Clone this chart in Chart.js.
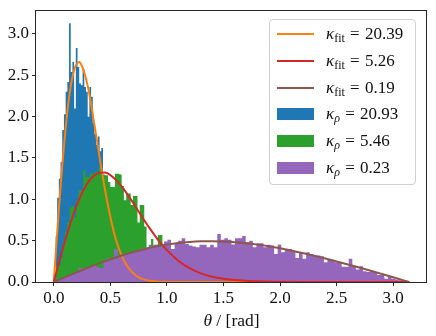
<!DOCTYPE html>
<html>
<head>
<meta charset="utf-8">
<script src="https://cdn.jsdelivr.net/npm/chart.js@4.4.0/dist/chart.umd.min.js"></script>
<style>
  body { margin: 0; background: #fff; }
  #wrap { position: relative; width: 436px; height: 336px; font-family: 'Liberation Serif', serif; color: #111; }
  #legend { position: absolute; left: 269px; top: 19px; width: 147px; height: 166px; border: 1px solid #d0d0d0; border-radius: 4px; background: rgba(255,255,255,0.8); box-sizing: border-box; }
  .row { position: absolute; left: 0; height: 26px; line-height: 26px; font-size: 17px; white-space: nowrap; }
  .row .sw { position: absolute; left: 7px; width: 37px; }
  .row .txt { position: absolute; left: 56px; top: 0; }
  .row .eq { margin: 0 1px; }
  .row sub { font-size: 12px; line-height: 0; vertical-align: -3px; }
  #xtitle { position: absolute; left: 36px; width: 391px; top: 312px; line-height: 17px; font-size: 17.5px; text-align: center; }
</style>
</head>
<body>
<div id="wrap">
  <canvas id="chart" width="436" height="336"></canvas>
  <div id="legend"></div>
  <div id="xtitle"><i>θ</i> / [rad]</div>
</div>
<script>
// histogramas: inicio de bin, ancho de bin y alturas
const bluStart = 0.015, bluWidth = 0.015;
const bluHist = [0.55, 1.02, 1.25, 1.45, 1.84, 2.03, 2.3, 2.42, 3.13, 2.54, 2.66, 2.1, 2.83, 2.6, 2.4, 2.38, 2.58, 2.36, 2.3, 2.0,
  2.36, 2.24, 1.92, 1.79, 1.66, 1.76, 1.58, 1.62, 1.3, 1.2, 1.08, 0.98, 0.88, 0.78, 0.7, 0.62, 0.54, 0.47, 0.41, 0.35,
  0.3, 0.26, 0.22, 0.19, 0.16, 0.13, 0.11, 0.09, 0.07, 0.05, 0.04, 0.03, 0.02];

const grnStart = 0, grnWidth = 0.02;
const grnHist = [0.05, 0.2, 0.2, 0.3, 0.48, 0.61, 0.72, 0.9, 0.92, 0.78,
  0.99, 1.11, 1.11, 1.35, 1.27, 1.27, 1.31, 1.31, 1.33, 1.33,
  1.40, 1.29, 1.29, 1.29, 1.21, 1.15, 1.15, 1.31, 1.31, 1.30,
  1.16, 0.99, 1.07, 1.07, 0.93, 1.04, 1.04, 0.72, 0.93, 0.93,
  0.67, 0.37, 0.45, 0.52, 0.44, 0.45, 0.57, 0.57, 0.42, 0.40,
  0.36, 0.34, 0.31, 0.29, 0.27, 0.25, 0.22, 0.20, 0.19, 0.17,
  0.15, 0.14, 0.13, 0.12, 0.10, 0.09, 0.085, 0.075, 0.07, 0.06,
  0.055, 0.05, 0.045, 0.04, 0.035, 0.03, 0.025, 0.02, 0.02, 0.015];

const purStart = 0, purWidth = 0.031416;
const purHist = [0.01, 0.03, 0.05, 0.07, 0.08, 0.10, 0.12, 0.17, 0.16, 0.17,
  0.19, 0.20, 0.18, 0.17, 0.27, 0.29, 0.29, 0.40, 0.32, 0.33,
  0.34, 0.36, 0.37, 0.38, 0.40, 0.41, 0.42, 0.44, 0.45, 0.45,
  0.45, 0.49, 0.51, 0.40, 0.47, 0.50, 0.53, 0.46, 0.44, 0.43,
  0.42, 0.45, 0.45, 0.42, 0.45, 0.42, 0.58, 0.51, 0.53, 0.51,
  0.455, 0.53, 0.53, 0.556, 0.48, 0.50, 0.42, 0.47, 0.47, 0.42,
  0.45, 0.44, 0.34, 0.455, 0.36, 0.395, 0.40, 0.37, 0.29, 0.35,
  0.28, 0.36, 0.34, 0.32, 0.32, 0.31, 0.24, 0.27, 0.27, 0.24,
  0.24, 0.185, 0.185, 0.28, 0.19, 0.15, 0.19, 0.13, 0.12, 0.13,
  0.11, 0.085, 0.085, 0.04, 0.06, 0.04, 0.03, 0.02, 0.015, 0.005];

// curvas de ajuste
const thetaA = [0, 0.025, 0.05, 0.075, 0.1, 0.125, 0.15, 0.175, 0.2, 0.225, 0.25, 0.275, 0.3, 0.325, 0.35, 0.375, 0.4,
  0.45, 0.5, 0.55, 0.6, 0.65, 0.7, 0.75, 0.8, 0.9, 1.0, 1.2, 1.5, 2.0, 2.5, 3.0, 3.1416];
const fitA = [0, 0.49, 0.97, 1.41, 1.79, 2.12, 2.37, 2.54, 2.63, 2.66, 2.61, 2.51, 2.37, 2.19, 1.98, 1.77, 1.55,
  1.14, 0.79, 0.51, 0.32, 0.19, 0.11, 0.057, 0.029, 0.007, 0.0014, 0, 0, 0, 0, 0, 0];

const thetaB = [0, 0.05, 0.1, 0.15, 0.2, 0.25, 0.3, 0.35, 0.4, 0.45, 0.5, 0.55, 0.6, 0.65, 0.7, 0.75, 0.8, 0.85, 0.9, 0.95,
  1.0, 1.1, 1.2, 1.3, 1.4, 1.5, 1.6, 1.8, 2.0, 2.2, 2.5, 3.0, 3.1416];
const fitB = [0, 0.255, 0.499, 0.723, 0.918, 1.078, 1.200, 1.280, 1.320, 1.323, 1.293, 1.235, 1.157, 1.063, 0.960, 0.853,
  0.747, 0.645, 0.550, 0.463, 0.385, 0.258, 0.167, 0.105, 0.064, 0.039, 0.023, 0.008, 0.003, 0.001, 0, 0, 0];

const thetaC = [0, 0.1, 0.2, 0.3, 0.4, 0.5, 0.6, 0.7, 0.8, 0.9, 1.0, 1.1, 1.2, 1.3, 1.4, 1.5, 1.6, 1.7, 1.8, 1.9,
  2.0, 2.1, 2.2, 2.3, 2.4, 2.5, 2.6, 2.7, 2.8, 2.9, 3.0, 3.1, 3.1416];
const fitC = [0, 0.0585, 0.116, 0.172, 0.225, 0.275, 0.320, 0.361, 0.397, 0.428, 0.452, 0.471, 0.484, 0.492, 0.494,
  0.490, 0.482, 0.469, 0.452, 0.432, 0.408, 0.380, 0.351, 0.319, 0.285, 0.249, 0.212, 0.175, 0.136, 0.0965, 0.0567, 0.0167, 0];

const xTicks = [0, 0.5, 1, 1.5, 2, 2.5, 3];
const yTicks = [0, 0.5, 1, 1.5, 2, 2.5, 3];

const labelsFit = ['20.39', '5.26', '0.19'];
const labelsRho = ['20.93', '5.46', '0.23'];

const C = { blue: '#1f77b4', orange: '#ff7f0e', green: '#2ca02c', red: '#d62728', purple: '#9467bd', brown: '#8c564b' };

function histPoints(start, width, vals) {
  const pts = vals.map((v, i) => ({ x: start + i * width, y: v }));
  pts.push({ x: start + vals.length * width, y: vals[vals.length - 1] });
  return pts;
}
const curve = (xs, ys) => xs.map((x, i) => ({ x: x, y: ys[i] }));

function histSet(pts, color, order) {
  return { data: pts, stepped: true, fill: 'origin', backgroundColor: color, borderColor: color,
    borderWidth: 0, pointRadius: 0, order: order };
}
function lineSet(pts, color, order) {
  return { data: pts, borderColor: color, borderWidth: 2, fill: false, pointRadius: 0,
    cubicInterpolationMode: 'monotone', order: order };
}

// marco completo como en matplotlib
const marco = {
  id: 'marco',
  afterDatasetsDraw(chart) {
    const { ctx, chartArea: a } = chart;
    ctx.save();
    ctx.strokeStyle = '#262626';
    ctx.lineWidth = 1;
    ctx.strokeRect(a.left - 0.5, a.top + 0.5, a.right - a.left, a.bottom - a.top);
    ctx.restore();
  }
};

const tickFont = { family: "'Liberation Serif', serif", size: 17 };
const noPad = s => { s.paddingTop = 0; s.paddingBottom = 0; s.paddingLeft = 0; s.paddingRight = 0; };

new Chart(document.getElementById('chart'), {
  type: 'line',
  data: {
    datasets: [
      lineSet(curve(thetaC, fitC), C.brown, 0),
      lineSet(curve(thetaB, fitB), C.red, 1),
      lineSet(curve(thetaA, fitA), C.orange, 2),
      histSet(histPoints(purStart, purWidth, purHist), C.purple, 3),
      histSet(histPoints(grnStart, grnWidth, grnHist), C.green, 4),
      histSet(histPoints(bluStart, bluWidth, bluHist), C.blue, 5)
    ]
  },
  options: {
    responsive: false,
    animation: false,
    devicePixelRatio: 1,
    layout: { padding: { top: 10, right: 9, left: 0, bottom: 0 } },
    plugins: { legend: { display: false }, tooltip: { enabled: false } },
    scales: {
      x: {
        type: 'linear', min: -0.157, max: 3.299,
        afterBuildTicks: s => { s.ticks = xTicks.map(v => ({ value: v })); },
        ticks: { callback: v => v.toFixed(1), font: tickFont, color: '#111', padding: 2, maxRotation: 0, autoSkip: false },
        grid: { drawOnChartArea: false, tickLength: 4, color: '#262626', tickWidth: 1 },
        border: { display: false },
        afterFit: s => { noPad(s); s.height = 54; }
      },
      y: {
        type: 'linear', min: 0, max: 3.29,
        afterBuildTicks: s => { s.ticks = yTicks.map(v => ({ value: v })); },
        ticks: { callback: v => v.toFixed(1), font: tickFont, color: '#111', padding: 3, autoSkip: false },
        grid: { drawOnChartArea: false, tickLength: 4, color: '#262626', tickWidth: 1 },
        border: { display: false },
        afterFit: s => { noPad(s); s.width = 36; }
      }
    }
  },
  plugins: [marco]
});

// leyenda en HTML (subindices)
const eq = ' <span class="eq">=</span> ';
const legendRows = [
  { kind: 'line', color: C.orange, html: '<i>κ</i><sub>fit</sub>' + eq + labelsFit[0] },
  { kind: 'line', color: C.red, html: '<i>κ</i><sub>fit</sub>' + eq + labelsFit[1] },
  { kind: 'line', color: C.brown, html: '<i>κ</i><sub>fit</sub>' + eq + labelsFit[2] },
  { kind: 'patch', color: C.blue, html: '<i>κ</i><sub><i>ρ</i></sub>' + eq + labelsRho[0] },
  { kind: 'patch', color: C.green, html: '<i>κ</i><sub><i>ρ</i></sub>' + eq + labelsRho[1] },
  { kind: 'patch', color: C.purple, html: '<i>κ</i><sub><i>ρ</i></sub>' + eq + labelsRho[2] }
];
const leg = document.getElementById('legend');
legendRows.forEach((r, i) => {
  const top = 1 + i * 26.8;
  const sw = r.kind === 'line'
    ? `<span class="sw" style="top:12px;height:2px;background:${r.color}"></span>`
    : `<span class="sw" style="top:7px;height:12px;background:${r.color}"></span>`;
  leg.insertAdjacentHTML('beforeend', `<div class="row" style="top:${top}px">${sw}<span class="txt">${r.html}</span></div>`);
});
</script>
</body>
</html>
